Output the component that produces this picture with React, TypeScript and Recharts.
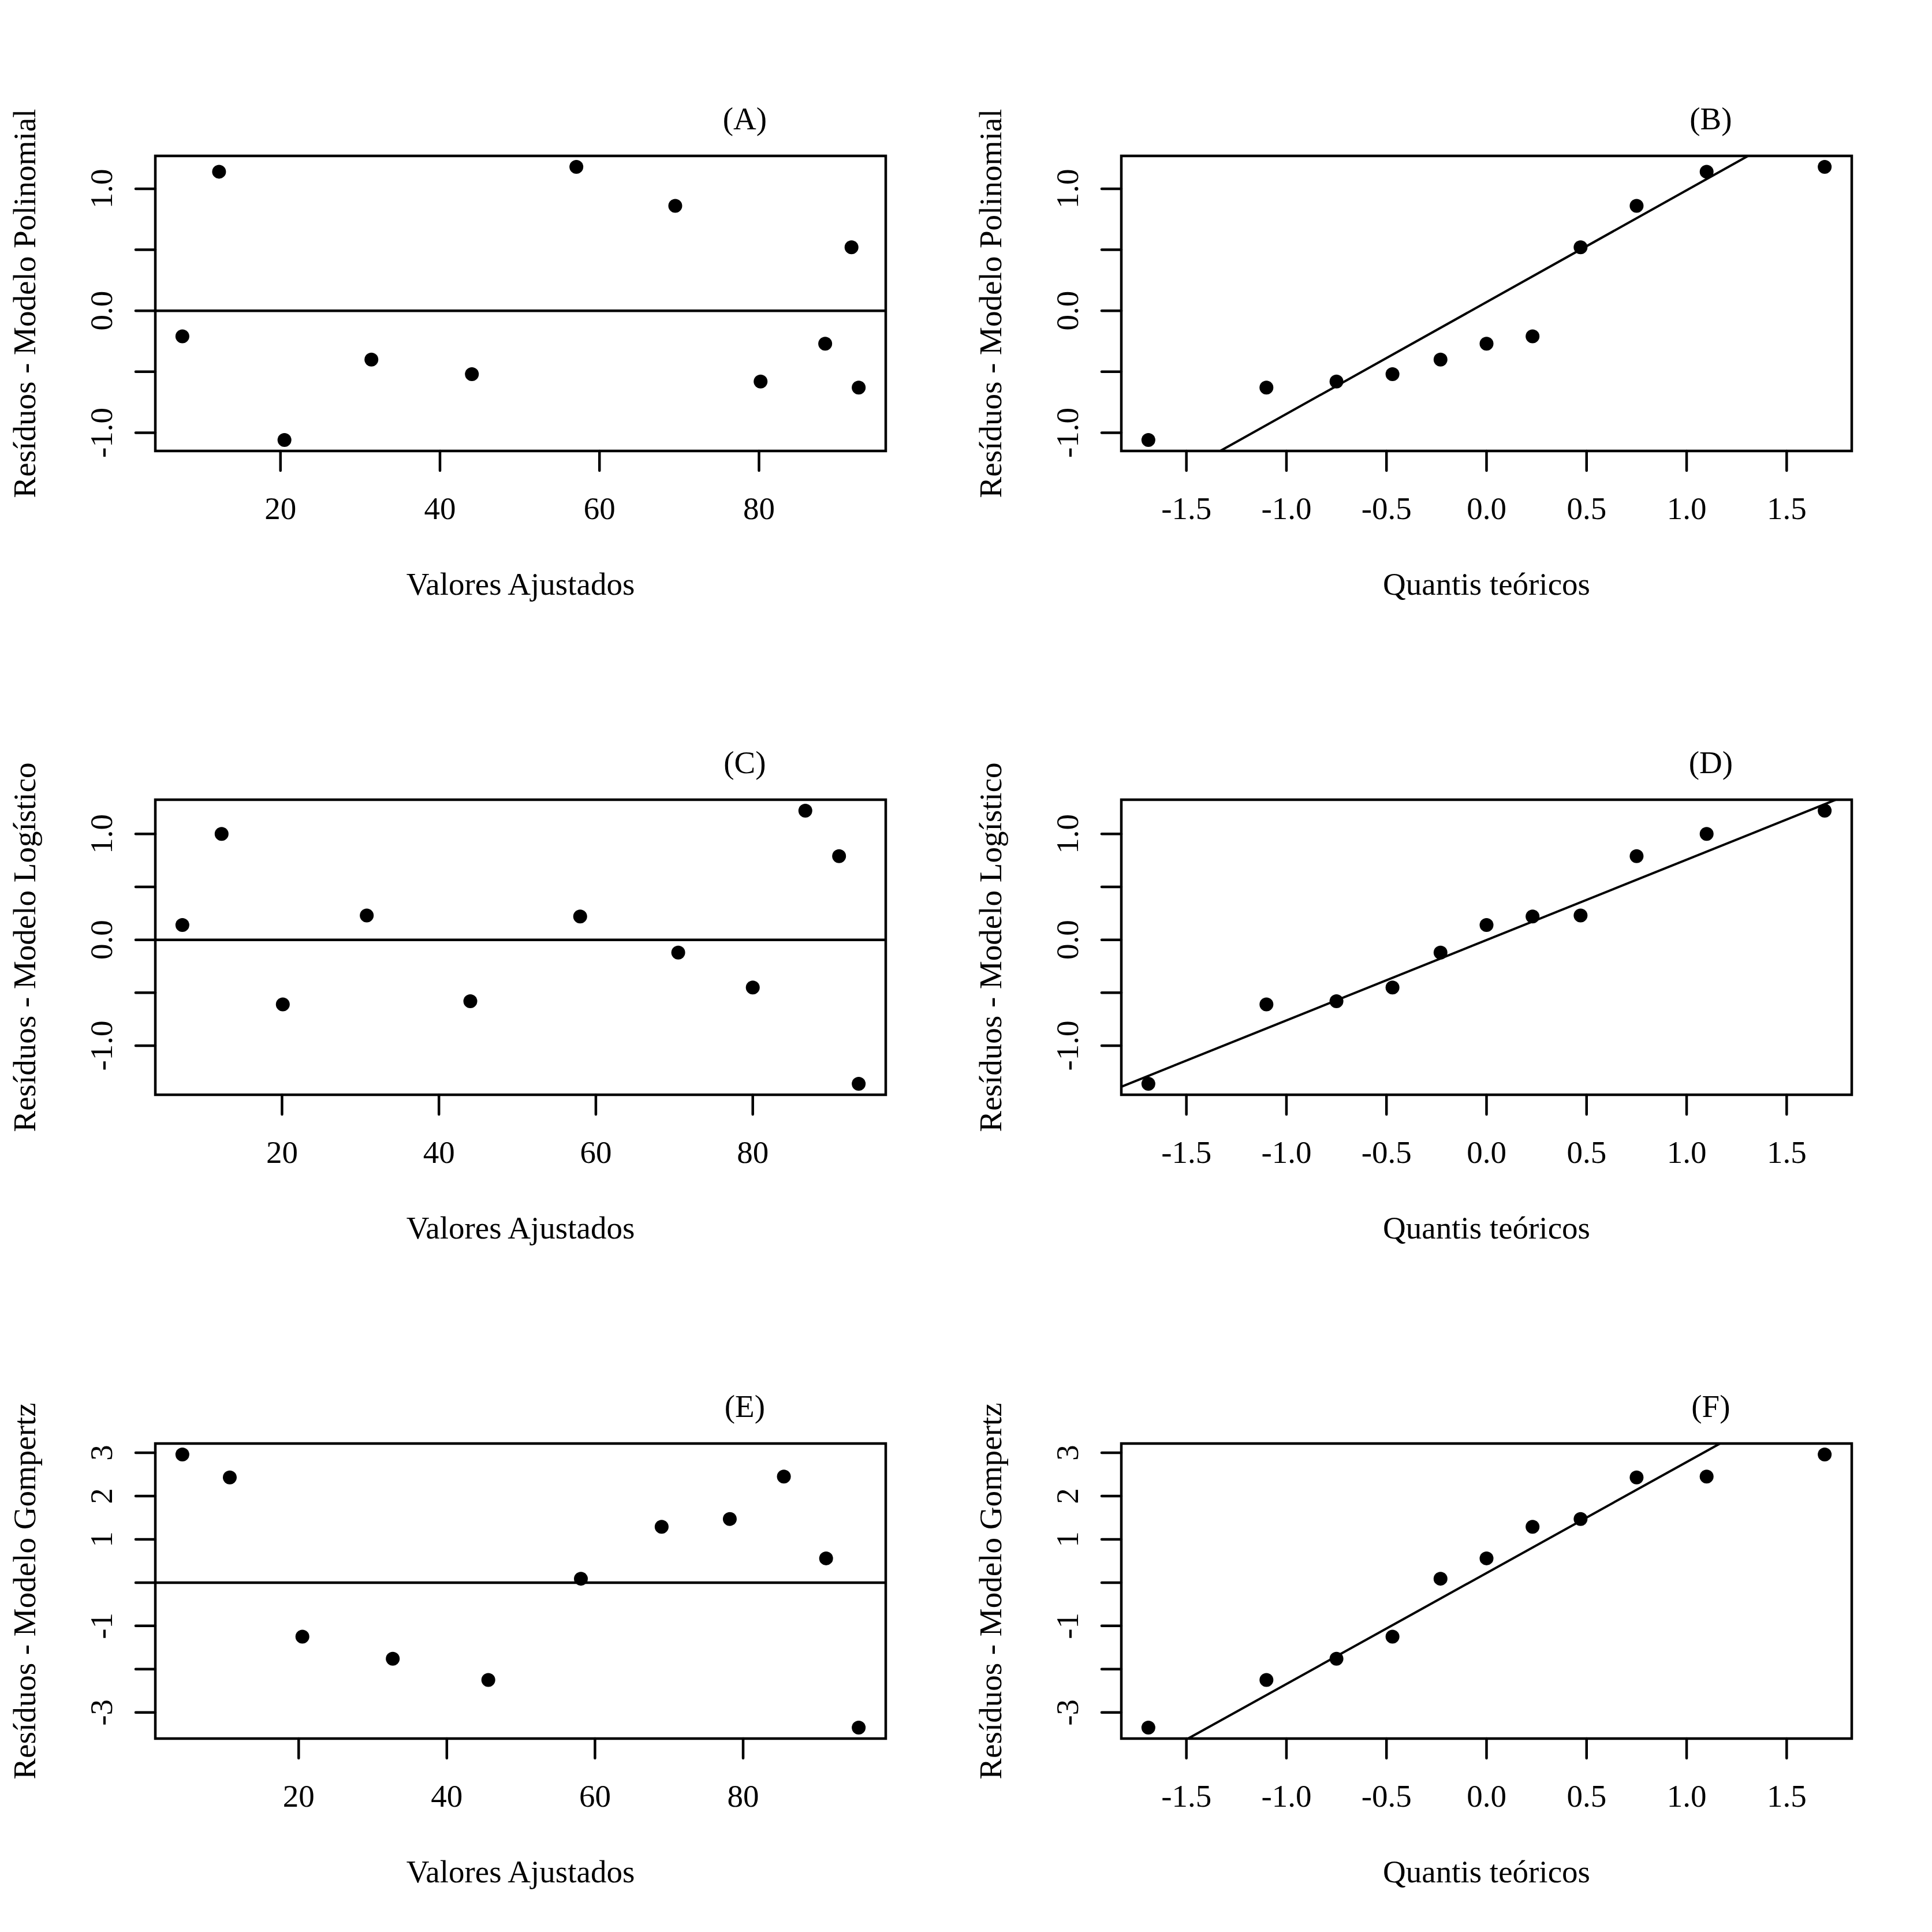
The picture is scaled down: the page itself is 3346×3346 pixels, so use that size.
import React from 'react';
import { ScatterChart, Scatter, XAxis, YAxis, ReferenceLine, ReferenceArea } from 'recharts';

// residuals vs fitted values
const fittedPoli = [7.7, 12.3, 20.5, 31.4, 44.0, 57.1, 69.5, 80.2, 88.3, 91.6, 92.5];
const residPoli = [-0.21, 1.14, -1.06, -0.40, -0.52, 1.18, 0.86, -0.58, -0.27, 0.52, -0.63];
const fittedLogis = [7.3, 12.3, 20.1, 30.8, 44.0, 58.0, 70.5, 80.0, 86.7, 91.0, 93.5];
const residLogis = [0.14, 1.00, -0.61, 0.23, -0.58, 0.22, -0.12, -0.45, 1.22, 0.79, -1.36];
const fittedGomp = [4.3, 10.7, 20.5, 32.7, 45.6, 58.1, 69.0, 78.2, 85.5, 91.2, 95.6];
const residGomp = [2.96, 2.43, -1.25, -1.76, -2.25, 0.09, 1.29, 1.47, 2.45, 0.56, -3.35];

// normal quantiles for n = 11
const theoQuant = [-1.69, -1.10, -0.75, -0.47, -0.23, 0, 0.23, 0.47, 0.75, 1.10, 1.69];

// qqline: intercept, slope
const qqLinePoli = [0.071, 0.917];
const qqLineLogis = [-0.002, 0.759];
const qqLineGomp = [0.221, 2.563];

const xTicksFit = [20, 40, 60, 80];
const xLabelsFit = ['20', '40', '60', '80'];
const xTicksQQ = [-1.5, -1, -0.5, 0, 0.5, 1, 1.5];
const xLabelsQQ = ['-1.5', '-1.0', '-0.5', '0.0', '0.5', '1.0', '1.5'];
const yTicksSmall = [-1, -0.5, 0, 0.5, 1];
const yLabelsSmall = ['-1.0', '', '0.0', '', '1.0'];
const yTicksGomp = [-3, -2, -1, 0, 1, 2, 3];
const yLabelsGomp = ['-3', '', '-1', '', '1', '2', '3'];

const FONT = '"Liberation Serif", "Times New Roman", serif';
const FS = 55;
const LW = 4.5;
const CELL_W = 1673;
const CELL_H = 1115;
const TOP = 270;
const BOTTOM = 334;
const LEFT = 269;
const RIGHT = 139;

// R style axis range: data range plus 4% each side
function rDomain(vals: number[]): [number, number] {
  const lo = Math.min(...vals);
  const hi = Math.max(...vals);
  const d = (hi - lo) * 0.04;
  return [lo - d, hi + d];
}

interface PanelProps {
  xs: number[];
  ys: number[];
  xTicks: number[];
  xLabels: string[];
  yTicks: number[];
  yLabels: string[];
  xTitle: string;
  yTitle: string;
  tag: string;
  zeroLine?: boolean;
  qq?: number[];
}

function Panel({ xs, ys, xTicks, xLabels, yTicks, yLabels, xTitle, yTitle, tag, zeroLine, qq }: PanelProps) {
  const data = xs.map((x, i) => ({ x, y: ys[i] }));
  const xDom = rDomain(xs);
  const yDom = rDomain(ys);
  const txt = { fontFamily: FONT, fontSize: FS, fill: '#000' };

  return (
    <ScatterChart width={CELL_W} height={CELL_H} margin={{ top: TOP, right: RIGHT, bottom: 0, left: 0 }}>
      <XAxis
        type="number"
        dataKey="x"
        domain={xDom}
        allowDataOverflow
        ticks={xTicks}
        interval={0}
        axisLine={false}
        tickSize={34}
        tickMargin={0}
        height={BOTTOM}
        tickLine={{ stroke: '#000', strokeWidth: LW, strokeLinecap: 'round' }}
        tick={(p: any) => (
          <text x={p.x} y={p.y + 84} textAnchor="middle" {...txt}>
            {xLabels[xTicks.indexOf(p.payload.value)]}
          </text>
        )}
        label={{
          content: (p: any) => (
            <text x={p.viewBox.x + p.viewBox.width / 2} y={p.viewBox.y + 249} textAnchor="middle" {...txt}>
              {xTitle}
            </text>
          ),
        }}
      />
      <YAxis
        type="number"
        dataKey="y"
        domain={yDom}
        allowDataOverflow
        ticks={yTicks}
        interval={0}
        axisLine={false}
        tickSize={34}
        tickMargin={0}
        width={LEFT}
        tickLine={{ stroke: '#000', strokeWidth: LW, strokeLinecap: 'round' }}
        tick={(p: any) => {
          const bx = p.x - 41;
          return (
            <text x={bx} y={p.y} transform={`rotate(-90 ${bx} ${p.y})`} textAnchor="middle" {...txt}>
              {yLabels[yTicks.indexOf(p.payload.value)]}
            </text>
          );
        }}
        label={{
          content: (p: any) => {
            const cy = p.viewBox.y + p.viewBox.height / 2;
            return (
              <text x={61} y={cy} transform={`rotate(-90 61 ${cy})`} textAnchor="middle" {...txt}>
                {yTitle}
              </text>
            );
          },
        }}
      />
      <ReferenceArea
        x1={xDom[0]}
        x2={xDom[1]}
        y1={yDom[0]}
        y2={yDom[1]}
        fill="none"
        fillOpacity={0}
        stroke="#000"
        strokeWidth={LW}
        ifOverflow="visible"
        label={{
          content: (p: any) => (
            <text x={p.viewBox.x + p.viewBox.width * 0.807} y={p.viewBox.y - 46} textAnchor="middle" {...txt}>
              {tag}
            </text>
          ),
        }}
      />
      {zeroLine && <ReferenceLine y={0} stroke="#000" strokeWidth={LW} ifOverflow="visible" />}
      {qq && (
        <ReferenceLine
          segment={[
            { x: xDom[0], y: qq[0] + qq[1] * xDom[0] },
            { x: xDom[1], y: qq[0] + qq[1] * xDom[1] },
          ]}
          stroke="#000"
          strokeWidth={4}
          ifOverflow="hidden"
        />
      )}
      <Scatter
        data={data}
        isAnimationActive={false}
        shape={(p: any) => <circle cx={p.cx} cy={p.cy} r={12} fill="#000" />}
      />
    </ScatterChart>
  );
}

const sorted = (v: number[]) => [...v].sort((a, b) => a - b);

export default function App() {
  const cells = [
    { row: 0, col: 0, el: <Panel xs={fittedPoli} ys={residPoli} xTicks={xTicksFit} xLabels={xLabelsFit} yTicks={yTicksSmall} yLabels={yLabelsSmall} xTitle="Valores Ajustados" yTitle="Resíduos - Modelo Polinomial" tag="(A)" zeroLine /> },
    { row: 0, col: 1, el: <Panel xs={theoQuant} ys={sorted(residPoli)} xTicks={xTicksQQ} xLabels={xLabelsQQ} yTicks={yTicksSmall} yLabels={yLabelsSmall} xTitle="Quantis teóricos" yTitle="Resíduos - Modelo Polinomial" tag="(B)" qq={qqLinePoli} /> },
    { row: 1, col: 0, el: <Panel xs={fittedLogis} ys={residLogis} xTicks={xTicksFit} xLabels={xLabelsFit} yTicks={yTicksSmall} yLabels={yLabelsSmall} xTitle="Valores Ajustados" yTitle="Resíduos - Modelo Logístico" tag="(C)" zeroLine /> },
    { row: 1, col: 1, el: <Panel xs={theoQuant} ys={sorted(residLogis)} xTicks={xTicksQQ} xLabels={xLabelsQQ} yTicks={yTicksSmall} yLabels={yLabelsSmall} xTitle="Quantis teóricos" yTitle="Resíduos - Modelo Logístico" tag="(D)" qq={qqLineLogis} /> },
    { row: 2, col: 0, el: <Panel xs={fittedGomp} ys={residGomp} xTicks={xTicksFit} xLabels={xLabelsFit} yTicks={yTicksGomp} yLabels={yLabelsGomp} xTitle="Valores Ajustados" yTitle="Resíduos - Modelo Gompertz" tag="(E)" zeroLine /> },
    { row: 2, col: 1, el: <Panel xs={theoQuant} ys={sorted(residGomp)} xTicks={xTicksQQ} xLabels={xLabelsQQ} yTicks={yTicksGomp} yLabels={yLabelsGomp} xTitle="Quantis teóricos" yTitle="Resíduos - Modelo Gompertz" tag="(F)" qq={qqLineGomp} /> },
  ];

  return (
    <div style={{ position: 'absolute', left: 0, top: 0, width: 3346, height: 3346, background: '#fff', overflow: 'hidden' }}>
      {cells.map((c, i) => (
        <div key={i} style={{ position: 'absolute', left: c.col * CELL_W, top: c.row * CELL_H, width: CELL_W, height: CELL_H }}>
          {c.el}
        </div>
      ))}
    </div>
  );
}
